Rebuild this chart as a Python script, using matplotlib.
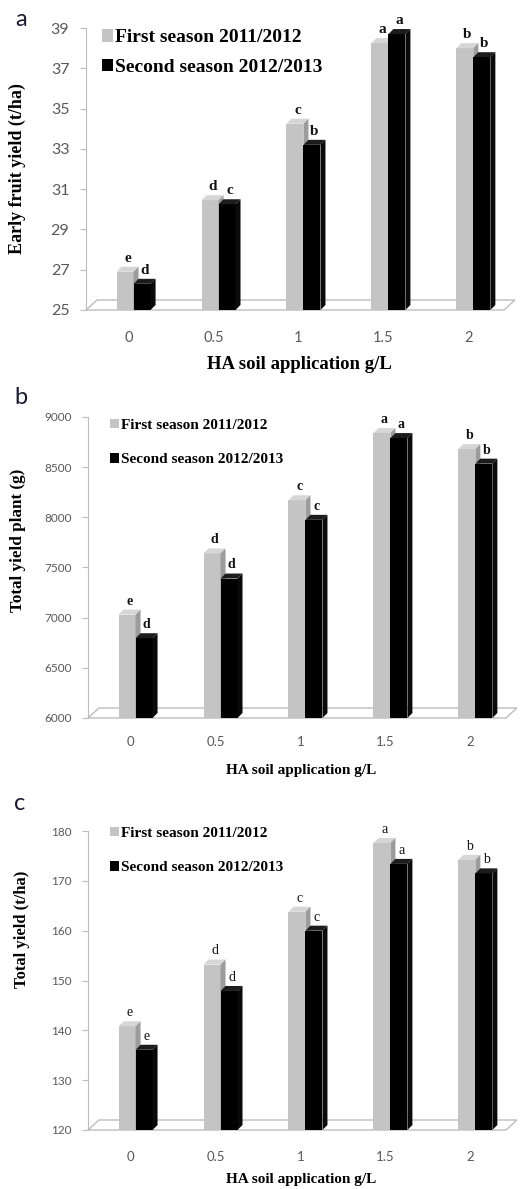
import matplotlib
matplotlib.use('Agg')
import matplotlib.pyplot as plt
from matplotlib.patches import Polygon, Patch

doses = ['0', '0.5', '1', '1.5', '2']
season_labels = ['First season 2011/2012', 'Second season 2012/2013']

# a - early fruit yield (t/ha)
early_first = [26.9, 30.45, 34.25, 38.25, 38.0]
early_second = [26.3, 30.25, 33.2, 38.7, 37.55]
early_let1 = ['e', 'd', 'c', 'a', 'b']
early_let2 = ['d', 'c', 'b', 'a', 'b']

# b - total yield per plant (g)
plant_first = [7030, 7640, 8170, 8840, 8680]
plant_second = [6795, 7390, 7975, 8790, 8535]
plant_let1 = ['e', 'd', 'c', 'a', 'b']
plant_let2 = ['d', 'd', 'c', 'a', 'b']

# c - total yield (t/ha)
total_first = [140.8, 153.2, 163.8, 177.6, 174.2]
total_second = [136.1, 147.9, 160.0, 173.4, 171.5]
total_let1 = ['e', 'd', 'c', 'a', 'b']
total_let2 = ['e', 'd', 'c', 'a', 'b']

W, H = 532, 1189
fig = plt.figure(figsize=(W / 100, H / 100), dpi=100)

LIGHT = '#c4c4c4'
LIGHT_TOP = '#d6d6d6'
LIGHT_SIDE = '#9c9c9c'
DARK = '#000000'
DARK_TOP = '#1c1c1c'
DARK_SIDE = '#0a0a0a'
SERIF = 'Liberation Serif'
TICKFONT = 'Lato'


def px_axes(left, top, bottom, width=429):
    return fig.add_axes([left / W, 1 - bottom / H, width / W, (bottom - top) / H])


def bar3d(ax, xs, vals, y0, dx, dy, front, top, side, letters, fs, bold):
    w = 0.2
    ax.bar(xs, [v - y0 for v in vals], width=w, bottom=y0, align='edge',
           color=front, edgecolor='none', zorder=3)
    for x, v, lt in zip(xs, vals, letters):
        cap = [(x, v), (x + w, v), (x + w + dx, v + dy), (x + dx, v + dy)]
        sd = [(x + w, y0), (x + w, v), (x + w + dx, v + dy), (x + w + dx, y0 + dy)]
        ax.add_patch(Polygon(cap, closed=True, facecolor=top, edgecolor='none', zorder=3))
        ax.add_patch(Polygon(sd, closed=True, facecolor=side, edgecolor='none', zorder=3))
        ax.annotate(lt, (x + w / 2 + dx / 2, v + dy), xytext=(0, 1.5),
                    textcoords='offset points', ha='center', va='bottom',
                    fontsize=fs, fontweight='bold' if bold else 'normal',
                    family=SERIF, color='#111111', zorder=5)


def panel(ax, first, second, let1, let2, ylim, yticks, ylabel, opts):
    y0, y1 = ylim
    ppu = opts['height'] / (y1 - y0)   # pixels per y unit
    dx = 5 / 85.0
    dy = 5 / ppu
    fdx = 11 / 85.0
    fdy = 10 / ppu
    x = list(range(len(doses)))

    ax.set_xlim(-0.5, 4.55)
    ax.set_ylim(y0, y1)

    floor = [(-0.5, y0), (4.42, y0), (4.42 + fdx, y0 + fdy), (-0.5 + fdx, y0 + fdy)]
    ax.add_patch(Polygon(floor, closed=True, facecolor='white', edgecolor='#bdbdbd',
                         lw=1.0, zorder=1, clip_on=False))

    bar3d(ax, [i - 0.14 for i in x], first, y0, dx, dy, LIGHT, LIGHT_TOP, LIGHT_SIDE,
          let1, opts['letfs'], opts['letbold'])
    bar3d(ax, [i + 0.06 for i in x], second, y0, dx, dy, DARK, DARK_TOP, DARK_SIDE,
          let2, opts['letfs'], opts['letbold'])

    for s in ['top', 'right', 'bottom']:
        ax.spines[s].set_visible(False)
    ax.spines['left'].set_color('#bdbdbd')
    ax.spines['left'].set_zorder(0.5)

    ax.set_yticks(yticks)
    ax.set_xticks(x)
    ax.set_xticklabels(doses)
    ax.tick_params(axis='y', direction='out', length=4.5, color='#bdbdbd', pad=opts['ypad'],
                   labelsize=opts['ytfs'], labelcolor='#595959')
    ax.tick_params(axis='x', length=0, pad=opts['xpad'], labelsize=opts['xtfs'],
                   labelcolor='#595959')
    for t in ax.get_xticklabels() + ax.get_yticklabels():
        t.set_family(TICKFONT)

    ax.set_ylabel(ylabel, family=SERIF, fontweight='bold', fontsize=opts['labfs'])
    ax.yaxis.set_label_coords(opts['ylx'], opts['yly'])
    ax.yaxis.label.set_va('center')
    ax.set_xlabel('HA soil application g/L', family=SERIF, fontweight='bold',
                  fontsize=opts['xlabfs'])
    ax.xaxis.set_label_coords(0.497, opts['xly'])
    ax.xaxis.label.set_va('center')

    handles = [Patch(facecolor=LIGHT, edgecolor='none'), Patch(facecolor=DARK, edgecolor='none')]
    ax.legend(handles, season_labels, loc='upper left', bbox_to_anchor=opts['leg'],
              frameon=False, borderpad=0, borderaxespad=0, handlelength=0.55,
              handleheight=0.6, handletextpad=0.15, labelspacing=opts['legsp'],
              prop={'family': SERIF, 'weight': 'bold', 'size': opts['legfs']})


ax_a = px_axes(86, 28, 310)
panel(ax_a, early_first, early_second, early_let1, early_let2, (25, 39),
      [25, 27, 29, 31, 33, 35, 37, 39], 'Early fruit yield (t/ha)',
      dict(height=282, letfs=11, letbold=True, ypad=7.5, ytfs=11.5, xpad=15, xtfs=10.5,
           labfs=13, ylx=-0.16, yly=0.5, xlabfs=13.5, xly=-0.195,
           leg=(0.037, 0.995), legsp=0.65, legfs=14))

ax_b = px_axes(88, 417, 718)
panel(ax_b, plant_first, plant_second, plant_let1, plant_let2, (6000, 9000),
      [6000, 6500, 7000, 7500, 8000, 8500, 9000], 'Total yield plant (g)',
      dict(height=301, letfs=10, letbold=True, ypad=7, ytfs=8.5, xpad=13, xtfs=9.5,
           labfs=12.3, ylx=-0.163, yly=0.59, xlabfs=11, xly=-0.173,
           leg=(0.052, 0.995), legsp=1.4, legfs=11))

ax_c = px_axes(88, 831, 1130)
panel(ax_c, total_first, total_second, total_let1, total_let2, (120, 180),
      [120, 130, 140, 150, 160, 170, 180], 'Total yield (t/ha)',
      dict(height=299, letfs=10, letbold=False, ypad=7, ytfs=8.5, xpad=15, xtfs=9.5,
           labfs=12, ylx=-0.154, yly=0.67, xlabfs=11, xly=-0.167,
           leg=(0.052, 1.015), legsp=1.4, legfs=11))

for letter, xp, yp in [('a', 21, 20), ('b', 21, 397), ('c', 20, 803)]:
    fig.text(xp / W, 1 - yp / H, letter, fontsize=17, family='Lato', color='#1a1a33',
             ha='center', va='center')

fig.savefig('out.png', dpi=100)
